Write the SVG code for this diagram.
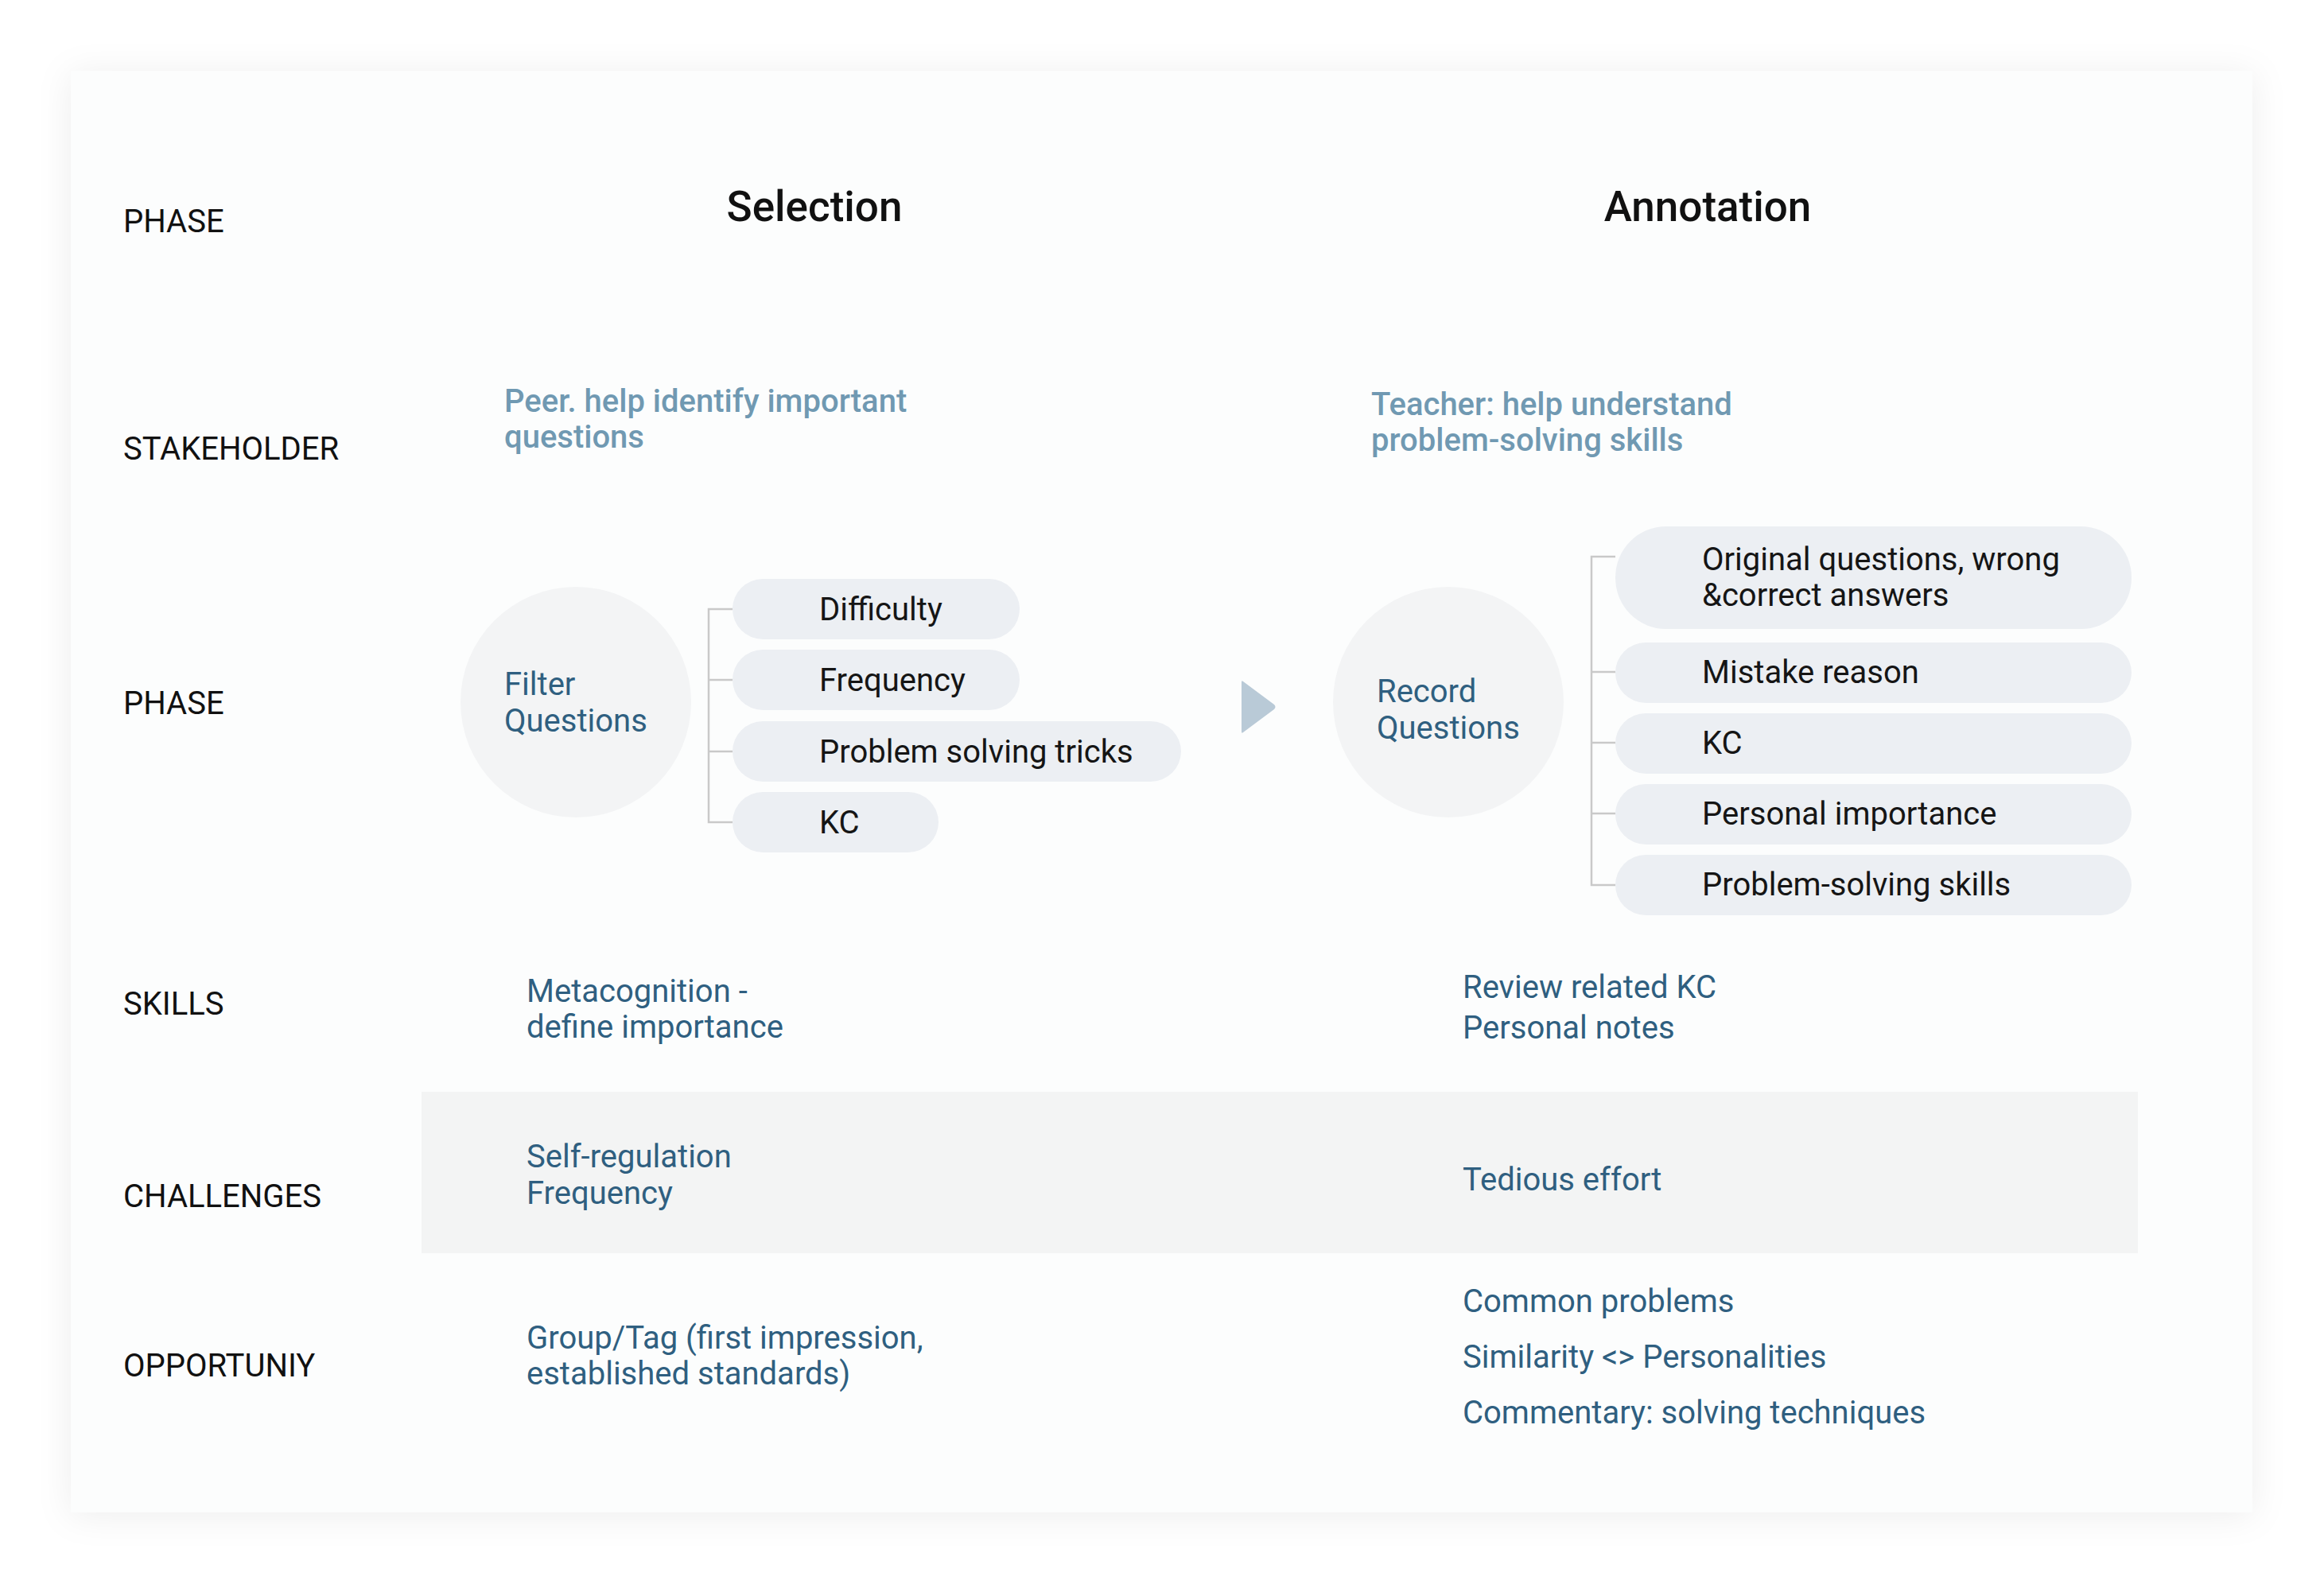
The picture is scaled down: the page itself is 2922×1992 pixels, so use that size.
<svg xmlns="http://www.w3.org/2000/svg" width="2922" height="1992" viewBox="0 0 2922 1992">
<defs>
<filter id="sh" x="-10%" y="-10%" width="120%" height="120%">
<feDropShadow dx="0" dy="4" stdDeviation="22" flood-color="#000" flood-opacity="0.07"/>
</filter>
<style>
text{font-family:Roboto,"Liberation Sans",sans-serif;font-size:40px}
.lab{fill:#111}
.head{font-size:53px;font-weight:500;fill:#111;text-anchor:middle}
.stk{fill:#7099B2;font-weight:500}
.body{fill:#2F5F80}
.pill{fill:#ECEFF3}
.pt{fill:#151515}
.circ{fill:#F3F4F5}
.br{fill:none;stroke:#C9C9C9;stroke-width:2.5}
</style>
</defs>
<rect width="2922" height="1992" fill="#FFFFFF"/>
<rect x="89" y="89" width="2743" height="1813" fill="#FCFDFD" filter="url(#sh)"/>
<rect id="challenge-band" x="530" y="1373" width="2158" height="203" fill="#F3F4F4"/>

<g id="row-labels">
<text class="lab" x="155" y="292">PHASE</text>
<text class="lab" x="155" y="578">STAKEHOLDER</text>
<text class="lab" x="155" y="898">PHASE</text>
<text class="lab" x="155" y="1276">SKILLS</text>
<text class="lab" x="155" y="1518">CHALLENGES</text>
<text class="lab" x="155" y="1731">OPPORTUNIY</text>
</g>

<g id="heading-selection"><text class="head" x="1024" y="278">Selection</text></g>
<g id="heading-annotation"><text class="head" x="2147" y="278">Annotation</text></g>

<g id="stakeholder-selection"><text class="stk" x="634" y="518">Peer. help identify important</text><text class="stk" x="634" y="563">questions</text></g>
<g id="stakeholder-annotation"><text class="stk" x="1724" y="522">Teacher: help understand</text><text class="stk" x="1724" y="567">problem-solving skills</text></g>

<g id="connectors">
<path class="br" d="M921 766H891V1034H921M891 855H921M891 945H921"/>
<path class="br" d="M2031 700H2001V1113H2031M2001 845H2031M2001 934H2031M2001 1023H2031"/>
<path d="M1563 857Q1561 855 1563 857L1602 886Q1605 889 1602 892L1563 921Q1561 923 1561 920V858Q1561 855 1563 857Z" fill="#B9CAD7"/>
</g>

<g id="filter-questions">
<circle class="circ" cx="724" cy="883" r="145"/>
<text class="body" x="634" y="874">Filter</text>
<text class="body" x="634" y="920">Questions</text>
</g>
<g id="pill-difficulty"><rect class="pill" x="921" y="728" width="361" height="76" rx="38"/><text class="pt" x="1030" y="780">Difficulty</text></g>
<g id="pill-frequency"><rect class="pill" x="921" y="817" width="361" height="76" rx="38"/><text class="pt" x="1030" y="869">Frequency</text></g>
<g id="pill-tricks"><rect class="pill" x="921" y="907" width="564" height="76" rx="38"/><text class="pt" x="1030" y="959">Problem solving tricks</text></g>
<g id="pill-kc1"><rect class="pill" x="921" y="996" width="259" height="76" rx="38"/><text class="pt" x="1030" y="1048">KC</text></g>

<g id="record-questions">
<circle class="circ" cx="1821" cy="883" r="145"/>
<text class="body" x="1731" y="883">Record</text>
<text class="body" x="1731" y="929">Questions</text>
</g>
<g id="pill-original"><rect class="pill" x="2031" y="662" width="649" height="129" rx="64"/><text class="pt" x="2140" y="717">Original questions, wrong</text><text class="pt" x="2140" y="762">&amp;correct answers</text></g>
<g id="pill-mistake"><rect class="pill" x="2031" y="808" width="649" height="76" rx="38"/><text class="pt" x="2140" y="859">Mistake reason</text></g>
<g id="pill-kc2"><rect class="pill" x="2031" y="897" width="649" height="76" rx="38"/><text class="pt" x="2140" y="948">KC</text></g>
<g id="pill-personal"><rect class="pill" x="2031" y="986" width="649" height="76" rx="38"/><text class="pt" x="2140" y="1037">Personal importance</text></g>
<g id="pill-skills"><rect class="pill" x="2031" y="1075" width="649" height="76" rx="38"/><text class="pt" x="2140" y="1126">Problem-solving skills</text></g>

<g id="skills-selection"><text class="body" x="662" y="1260">Metacognition -</text><text class="body" x="662" y="1305">define importance</text></g>
<g id="skills-annotation"><text class="body" x="1839" y="1255">Review related KC</text><text class="body" x="1839" y="1306">Personal notes</text></g>

<g id="challenges-selection"><text class="body" x="662" y="1468">Self-regulation</text><text class="body" x="662" y="1514">Frequency</text></g>
<g id="challenges-annotation"><text class="body" x="1839" y="1497">Tedious effort</text></g>

<g id="opportunity-selection"><text class="body" x="662" y="1696">Group/Tag (first impression,</text><text class="body" x="662" y="1741">established standards)</text></g>
<g id="opportunity-annotation"><text class="body" x="1839" y="1650">Common problems</text><text class="body" x="1839" y="1720">Similarity &lt;&gt; Personalities</text><text class="body" x="1839" y="1790">Commentary: solving techniques</text></g>
</svg>
